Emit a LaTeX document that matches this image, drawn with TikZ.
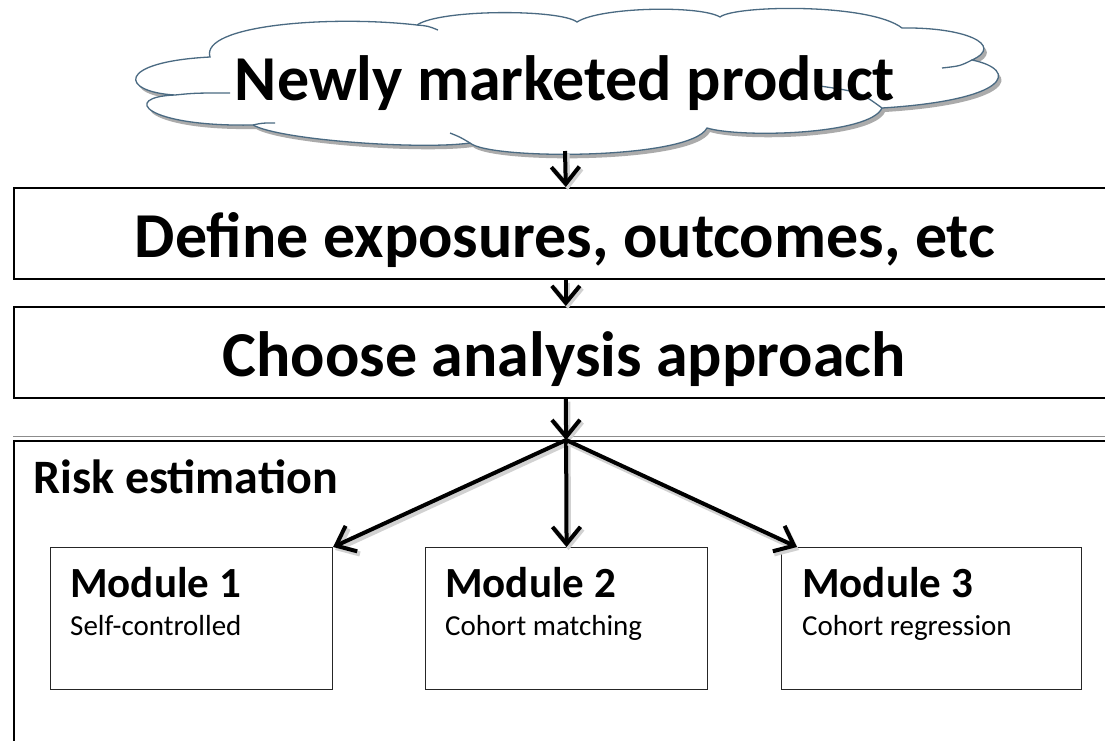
\documentclass[tikz,border=0pt]{standalone}
\usepackage{fontspec}
\setmainfont{Carlito}
\usetikzlibrary{shadows,arrows.meta,calc}
\definecolor{cloudline}{HTML}{4A6A82}
\begin{document}
\begin{tikzpicture}[x=1pt,y=-1pt,
  widebox/.style={draw=black, line width=1.6pt, anchor=north west, inner sep=0pt, minimum width=1104pt, minimum height=91pt},
  modbox/.style={draw=black!85, line width=1.1pt, anchor=north west, inner sep=0pt, minimum height=142pt},
  arr/.style={line width=4pt, -{Straight Barb[length=17pt,width=28pt]},
    preaction={draw=black!18, line width=5pt, transform canvas={shift={(2pt,-3pt)}}}},
  bigtext/.style={font=\fontsize{64}{72}\selectfont\bfseries, inner sep=0pt, anchor=base},
  modtitle/.style={font=\fontsize{43}{50}\selectfont\bfseries, inner sep=0pt, anchor=base west},
  modsub/.style={font=\fontsize{29}{34}\selectfont, inner sep=0pt, anchor=base west},
  cloudedge/.style={draw=cloudline, line width=1.3pt}]
\clip (0,0) rectangle (1105,740);
\fill[white] (0,0) rectangle (1105,740);
% cloud outline
\path[cloudedge, fill=white, drop shadow={shadow xshift=3pt, shadow yshift=-4pt, fill=black!55, opacity=0.6}]
  (175,95) .. controls (120,92) and (115,62) .. (210,57)
  .. controls (200,25) and (330,15) .. (417,25)
  .. controls (440,9) and (560,9) .. (577,22)
  .. controls (600,7) and (700,5) .. (720,17)
  .. controls (735,5) and (870,3) .. (902,28)
  .. controls (965,27) and (1005,45) .. (972,60)
  .. controls (1020,70) and (1010,100) .. (882,108)
  .. controls (870,135) and (740,138) .. (707,128)
  .. controls (690,160) and (490,160) .. (470,143)
  .. controls (420,150) and (280,140) .. (253,125)
  .. controls (145,127) and (120,97) .. (175,95) -- cycle;
% inner arcs of the cloud
\draw[cloudedge] (175,95) .. controls (195,93) .. (230,93);
\draw[cloudedge] (417,25) .. controls (428,26) .. (438,30);
\draw[cloudedge] (972,60) .. controls (960,66) .. (942,68);
\draw[cloudedge] (882,108) .. controls (860,92) .. (820,86);
\draw[cloudedge] (470,143) .. controls (460,137) .. (450,133);
\draw[cloudedge] (253,125) .. controls (262,123) .. (275,123);
\coordinate (cloudbottom) at (565,151);
\node[bigtext] (cloudtext) at (565,100) {Newly marketed product};
% wide boxes
\node[widebox] (box1) at (13,187) {};
\node[bigtext] (box1text) at (565,257) {Define exposures, outcomes, etc};
\node[widebox] (box2) at (13,306) {};
\node[bigtext] (box2text) at (564,376) {Choose analysis approach};
\draw[black!45, line width=1pt] (13,436) -- (1105,436);
\node[draw=black, line width=2.2pt, anchor=north west, inner sep=0pt, minimum width=1104pt, minimum height=400pt] (risk) at (13,440) {};
\node[font=\fontsize{48}{56}\selectfont\bfseries, inner sep=0pt, anchor=base west] (risktext) at (33,493) {Risk estimation};
% modules
\node[modbox, minimum width=282pt] (mod1) at (50,547) {};
\node[modtitle] (mod1t) at (70,597) {Module 1};
\node[modsub] (mod1s) at (70,635) {Self-controlled};
\node[modbox, minimum width=282pt] (mod2) at (425,547) {};
\node[modtitle] (mod2t) at (445,597) {Module 2};
\node[modsub] (mod2s) at (445,635) {Cohort matching};
\node[modbox, minimum width=300pt] (mod3) at (781,547) {};
\node[modtitle] (mod3t) at (802,597) {Module 3};
\node[modsub] (mod3s) at (802,635) {Cohort regression};
% arrows
\draw[arr] (cloudbottom) -- (box1.north);
\draw[arr] (box1.south) -- (box2.north);
\draw[arr] (box2.south) -- (risk.north);
\coordinate (hub) at (risk.north);
\coordinate (mod3in) at ($(mod3.north west)+(16,0)$);
\draw[arr] (hub) -- (mod1.north east);
\draw[arr] (hub) -- (mod2.north);
\draw[arr] (hub) -- (mod3in);
\end{tikzpicture}
\end{document}
